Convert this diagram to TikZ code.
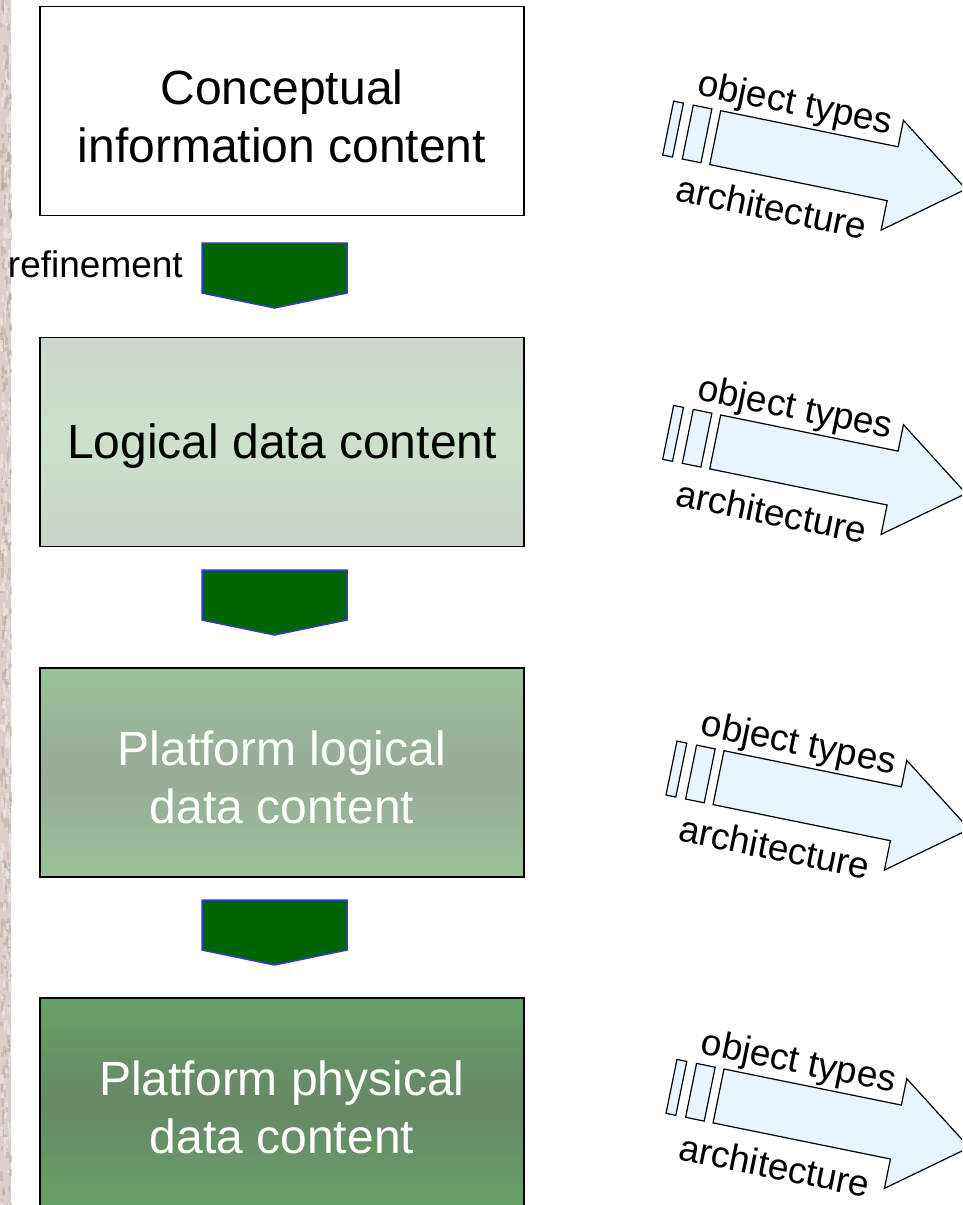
\documentclass[tikz,border=0pt]{standalone}
\usepackage{fontspec}
\setmainfont{Liberation Sans}
\usetikzlibrary{calc}
\definecolor{darkgr}{HTML}{006400}
\definecolor{arrowblue}{HTML}{3838D0}
\definecolor{lightblue}{HTML}{E8F4FF}
\definecolor{stone}{HTML}{DAD0C9}
\definecolor{stonedark}{HTML}{B3A79E}
\definecolor{stonelight}{HTML}{EEE8E3}
\definecolor{gAtop}{HTML}{CDD7CD}
\definecolor{gAmid}{HTML}{CCE0CC}
\definecolor{gAbot}{HTML}{CAD3CA}
\definecolor{gBtop}{HTML}{99C199}
\definecolor{gBmid}{HTML}{99AA99}
\definecolor{gBbot}{HTML}{99C199}
\definecolor{gCtop}{HTML}{66A066}
\definecolor{gCmid}{HTML}{668866}
\definecolor{gCbot}{HTML}{66A066}
\begin{document}
\begin{tikzpicture}[x=1pt,y=-1pt,
  box/.style={draw=black, line width=1.4pt, minimum width=484pt, minimum height=209pt, inner sep=0pt},
  boxtext/.style={inner sep=0pt, align=center, font=\fontsize{48}{58}\selectfont},
  greenarrow/.style={fill=darkgr, draw=arrowblue, line width=1.5pt, line join=miter},
  bluearrow/.style={fill=lightblue, draw=black, line width=1.2pt, line join=miter},
  lbl/.style={font=\fontsize{37}{44}\selectfont, rotate=-11.5, inner sep=0pt, anchor=base},
  smalllbl/.style={font=\fontsize{37}{44}\selectfont, inner sep=0pt}]
\useasboundingbox (0,0) rectangle (962,1205);
\clip (0,0) rectangle (962,1205);
\fill[white] (0,0) rectangle (962,1205);
% stone strip on the left
\fill[stone] (0,0) rectangle (11,1205);
\pgfmathsetseed{7}
\foreach \i in {1,...,260}{
  \pgfmathsetmacro\yy{rnd*1205}
  \pgfmathsetmacro\xx{rnd*10}
  \pgfmathsetmacro\hh{3+rnd*8}
  \fill[stonedark, opacity=0.45] (\xx,\yy) rectangle ++(2.5,\hh);
}
\foreach \i in {1,...,200}{
  \pgfmathsetmacro\yy{rnd*1205}
  \pgfmathsetmacro\xx{rnd*10}
  \pgfmathsetmacro\hh{3+rnd*8}
  \fill[stonelight, opacity=0.6] (\xx,\yy) rectangle ++(2.5,\hh);
}

% boxes
\node[box, fill=white, line width=1.2pt] (c1) at (282,111) {};
\node[box, top color=gAtop, bottom color=gAbot, middle color=gAmid] (c2) at (282,442) {};
\node[box, top color=gBtop, bottom color=gBbot, middle color=gBmid] (c3) at (282,772.5) {};
\node[box, top color=gCtop, bottom color=gCbot, middle color=gCmid] (c4) at (282,1102.5) {};
\node[boxtext] (t1) at ($(c1.center)+(0,5)$) {Conceptual\\information content};
\node[boxtext] (t2) at ($(c2.center)+(0,4)$) {Logical data content};
\node[boxtext, text=white] (t3) at ($(c3.center)+(0,5)$) {Platform logical\\data content};
\node[boxtext, text=white] (t4) at ($(c4.center)+(0,5)$) {Platform physical\\data content};

% refinement arrows
\coordinate (r1) at (202,243);
\coordinate (r2) at (202,570);
\coordinate (r3) at (202,900);
\foreach \r in {r1,r2,r3}{
  \draw[greenarrow] (\r) -- ++(145,0) -- ++(0,50) -- ++(-72.5,15) -- ++(-72.5,-15) -- cycle;
}
\node[smalllbl, anchor=base east] (ref) at (183,277) {refinement};

% object type / architecture arrows
\foreach \gx/\gy/\k in {720.7/110.7/1, 720.7/415/2, 724/750.7/3, 724/1069/4}{
  \begin{scope}[shift={(\gx,\gy)}, rotate=-11.5]
    \draw[bluearrow] (0,0) -- (181,0) -- (181,-27) -- (256,28) -- (181,85) -- (181,55) -- (0,55) -- cycle;
    \draw[bluearrow] (-28,0) -- (-9,0) -- (-9,55) -- (-28,55) -- cycle;
    \draw[bluearrow] (-48,0) -- (-38,0) -- (-38,55) -- (-48,55) -- cycle;
    \node[lbl] (ot\k) at (72,-10.6) {object types};
    \node[lbl] (ar\k) at (69,97.5) {architecture};
  \end{scope}
}
\end{tikzpicture}
\end{document}
